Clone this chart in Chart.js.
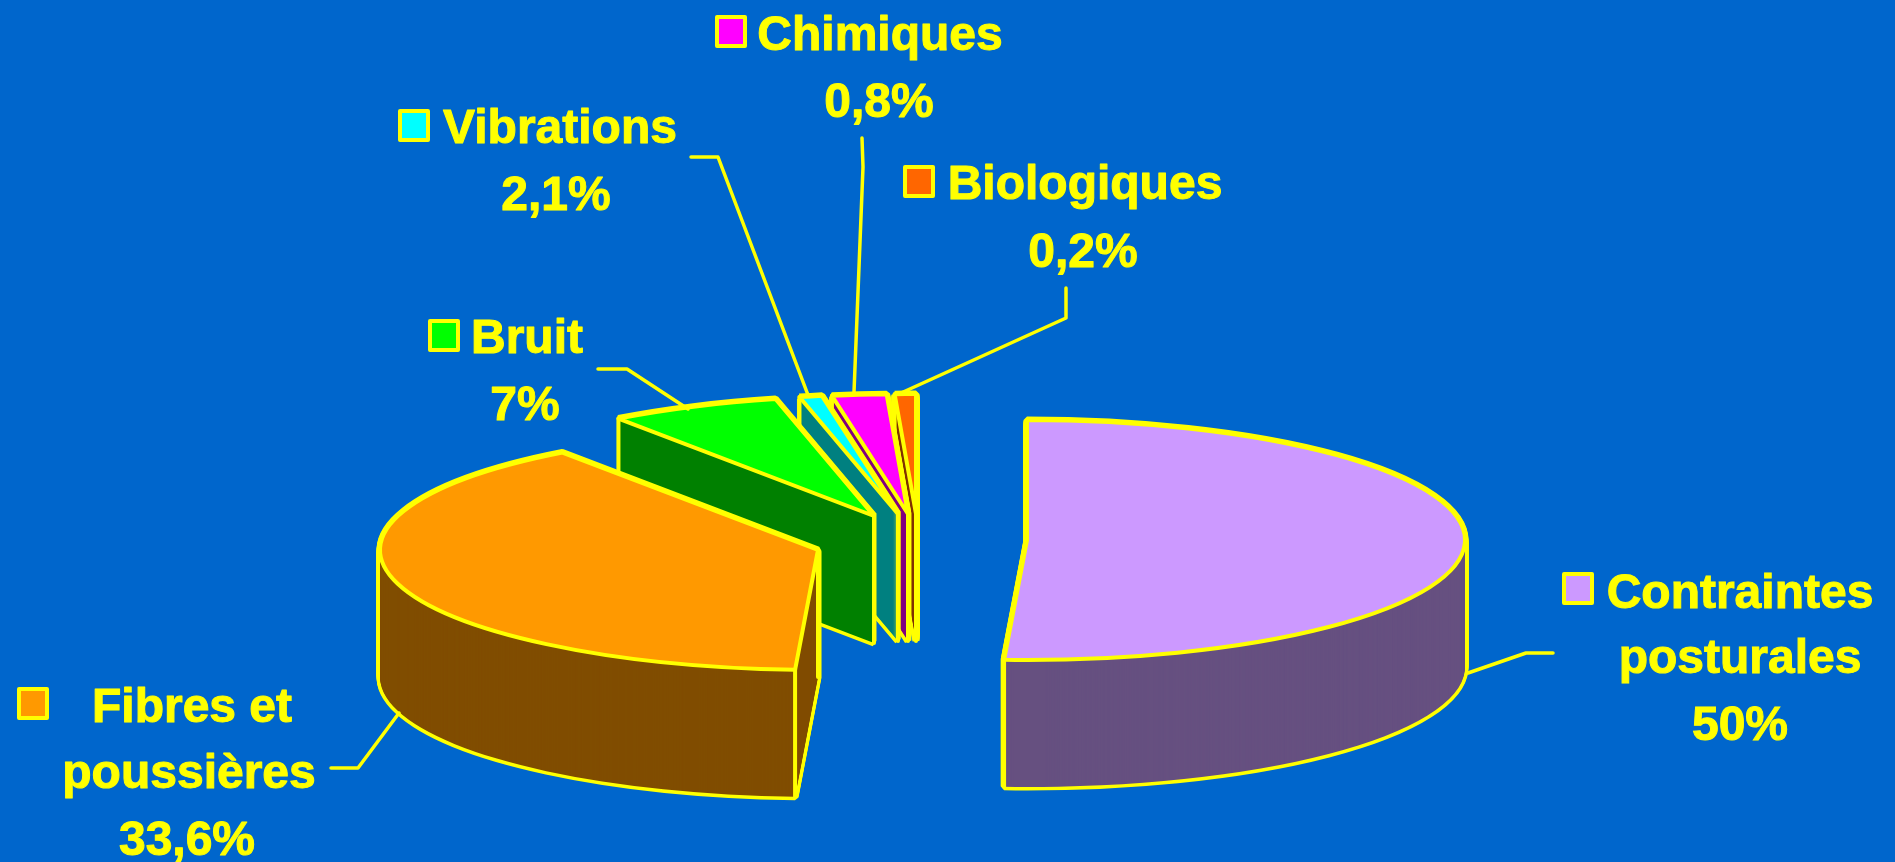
<!DOCTYPE html>
<html>
<head>
<meta charset="utf-8">
<title>Contraintes</title>
<script src="https://cdn.jsdelivr.net/npm/chart.js@4"></script>
<style>
    html, body { margin: 0; padding: 0; background: #0066cc; overflow: hidden; }
    canvas { display: block; }
</style>
</head>
<body>
<canvas id="pie-3d" width="1895" height="862"></canvas>
<script>
// values as printed on the picture
var categories = ["Contraintes posturales", "Fibres et poussières", "Bruit", "Vibrations", "Chimiques", "Biologiques"];
var printedPercent = [50, 33.6, 7, 2.1, 0.8, 0.2];
// the drawn slices do not follow the printed percentages, so their sweep is
// read separately off the picture (degrees)
var sliceSweep = [183, 141.3, 22.7, 3, 7.2, 2.8];

var topColors = ["#cc99ff", "#ff9900", "#00ff00", "#00ffff", "#ff00ff", "#ff6600"];
var wallColors = ["#665080", "#804d00", "#008000", "#008080", "#800080", "#803300"];
var yellow = "#ffff00";

// pie look
var squash = 0.274;
var depth = 127;
var explode = [[111, 27], [-98, 37], [-42, 3], [-18, 1], [-8, 1], [0, 1]];
var drawOrder = [5, 4, 3, 2, 1, 0];

// label blocks: name lines, percent line, legend key, leader line
var labelBlocks = [
    { lines: [["Contraintes", 1740, 608], ["posturales", 1740, 673]], pct: [1740, 740], key: [1564, 574], leader: [[1553, 653], [1526, 653], [1468, 673]] },
    { lines: [["Fibres et", 192, 722], ["poussières", 189, 788]], pct: [187, 855], key: [19, 689], leader: [[331, 768], [358, 768], [399, 713]] },
    { lines: [["Bruit", 527, 353]], pct: [525, 420], key: [430, 321], leader: [[598, 369], [627, 369], [688, 409]] },
    { lines: [["Vibrations", 560, 143]], pct: [556, 210], key: [400, 111], leader: [[691, 157], [718, 157], [808, 395]] },
    { lines: [["Chimiques", 880, 50]], pct: [879, 117], key: [717, 17], leader: [[862, 138], [863, 167], [854, 392]] },
    { lines: [["Biologiques", 1085, 199]], pct: [1083, 267], key: [905, 167], leader: [[1066, 288], [1066, 318], [901, 393]] }
];

function percentText(v) {
    return String(v).replace(".", ",") + "%";
}

// draws one arc element with other options, keeping the line width even under the squash
function drawArc(ctx, arc, extra) {
    var saved = arc.options;
    arc.options = Object.assign({}, saved, extra);
    ctx.stroke = function () {
        var t = ctx.getTransform();
        ctx.setTransform(1, 0, 0, 1, 0, 0);
        CanvasRenderingContext2D.prototype.stroke.call(ctx);
        ctx.setTransform(t);
    };
    arc.draw(ctx);
    delete ctx.stroke;
    arc.options = saved;
}

function atHeight(ctx, arc, i, z) {
    ctx.setTransform(1, 0, 0, 1, 0, 0);
    ctx.translate(arc.x + explode[i][0], arc.y + explode[i][1] + z);
    ctx.scale(1, squash);
    ctx.translate(-arc.x, -arc.y);
}

function inSlice(arc, ux, uy) {
    var a = Math.atan2(uy, ux);
    if (a < -Math.PI / 2) a += Math.PI * 2;
    return Math.hypot(ux, uy) < arc.outerRadius && a >= arc.startAngle && a <= arc.endAngle;
}

// vertical edges of the walls, only where the corner is not hidden by its own top face
function drawEdges(ctx, arc, i) {
    var R = arc.outerRadius;
    var corners = [[0, 0],
        [Math.cos(arc.startAngle) * R, Math.sin(arc.startAngle) * R],
        [Math.cos(arc.endAngle) * R, Math.sin(arc.endAngle) * R]];
    ctx.setTransform(1, 0, 0, 1, 0, 0);
    ctx.strokeStyle = yellow;
    ctx.lineWidth = 4;
    ctx.lineCap = "round";
    corners.forEach(function (c) {
        if (inSlice(arc, c[0], c[1] + 2 / squash)) return;
        var px = arc.x + explode[i][0] + c[0];
        var py = arc.y + explode[i][1] + c[1] * squash;
        ctx.beginPath();
        ctx.moveTo(px, py);
        ctx.lineTo(px, py + depth);
        ctx.stroke();
    });
}

var pie3d = {
    id: "pie3d",
    beforeDatasetsDraw: function (chart) {
        var ctx = chart.ctx;
        var arcs = chart.getDatasetMeta(0).data;
        ctx.save();
        drawOrder.forEach(function (i) {
            var arc = arcs[i];
            var z;
            for (z = depth; z >= 0; z -= 1) {
                atHeight(ctx, arc, i, z);
                drawArc(ctx, arc, { backgroundColor: yellow, borderColor: yellow, borderWidth: 7 });
            }
            for (z = depth; z >= 0; z -= 1) {
                atHeight(ctx, arc, i, z);
                drawArc(ctx, arc, { backgroundColor: wallColors[i], borderWidth: 0 });
            }
            drawEdges(ctx, arc, i);
            atHeight(ctx, arc, i, 0);
            drawArc(ctx, arc, { backgroundColor: topColors[i], borderColor: yellow, borderWidth: 4, borderJoinStyle: "round" });
        });
        ctx.restore();
        return false;
    },
    afterDraw: function (chart) {
        var ctx = chart.ctx;
        ctx.save();
        ctx.setTransform(1, 0, 0, 1, 0, 0);
        ctx.font = 'bold 48px "Liberation Sans", Arial, sans-serif';
        ctx.textAlign = "center";
        ctx.textBaseline = "alphabetic";
        labelBlocks.forEach(function (b, i) {
            ctx.fillStyle = yellow;
            ctx.strokeStyle = yellow;
            ctx.lineWidth = 1;
            b.lines.forEach(function (l) {
                ctx.fillText(l[0], l[1], l[2]);
                ctx.strokeText(l[0], l[1], l[2]);
            });
            ctx.fillText(percentText(printedPercent[i]), b.pct[0], b.pct[1]);
            ctx.strokeText(percentText(printedPercent[i]), b.pct[0], b.pct[1]);

            ctx.fillStyle = topColors[i];
            ctx.lineWidth = 4;
            ctx.lineJoin = "round";
            ctx.fillRect(b.key[0], b.key[1], 28, 29);
            ctx.strokeRect(b.key[0], b.key[1], 28, 29);

            ctx.lineWidth = 3.5;
            ctx.lineCap = "round";
            ctx.beginPath();
            b.leader.forEach(function (p, n) {
                if (n === 0) ctx.moveTo(p[0], p[1]); else ctx.lineTo(p[0], p[1]);
            });
            ctx.stroke();
        });
        ctx.restore();
    }
};

new Chart(document.getElementById("pie-3d").getContext("2d"), {
    type: "pie",
    data: {
        labels: categories,
        datasets: [{ data: sliceSweep, backgroundColor: topColors, borderColor: yellow }]
    },
    options: {
        responsive: false,
        animation: false,
        events: [],
        radius: 438,
        // puts the pie centre where the unmoved slices meet
        layout: { padding: { left: 0, right: 63, top: 164, bottom: 0 } },
        plugins: { legend: { display: false }, tooltip: { enabled: false } }
    },
    plugins: [pie3d]
});
</script>
</body>
</html>
